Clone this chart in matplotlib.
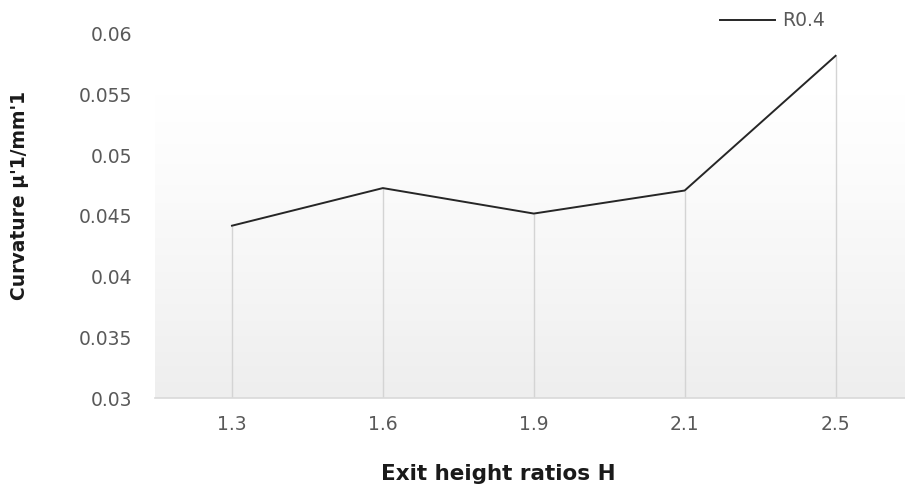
import numpy as np
import matplotlib.pyplot as plt
from matplotlib.colors import LinearSegmentedColormap

categories = ["1.3", "1.6", "1.9", "2.1", "2.5"]
curvature = [0.0442, 0.0473, 0.0452, 0.0471, 0.0582]
series_name = "R0.4"
y_ticks = [0.03, 0.035, 0.04, 0.045, 0.05, 0.055, 0.06]
y_tick_labels = ["0.03", "0.035", "0.04", "0.045", "0.05", "0.055", "0.06"]

plt.rcParams['font.family'] = ['DejaVu Sans']

fig = plt.figure(figsize=(9.05, 4.91), dpi=100)
ax = fig.add_axes([0.1713, 0.1894, 0.8287, 0.7414])

x = np.arange(len(categories))
xlim = (-0.51, 4.46)
ylim = (0.03, 0.06)

# soft vertical gradient in the plot area (light gray at bottom fading to white)
grad = (1 - np.linspace(0, 1, 256)).reshape(-1, 1) ** 1.2
cmap = LinearSegmentedColormap.from_list("bg", ["#ffffff", "#eeeeee"])
ax.imshow(grad, extent=[xlim[0], xlim[1], 0.03, 0.0552],
          aspect='auto', cmap=cmap, zorder=0, origin='lower', vmin=0, vmax=1)
ax.set_xlim(*xlim)
ax.set_ylim(*ylim)

# drop lines from each point to the category axis
ax.vlines(x, 0.03, curvature, colors="#d4d4d4", linewidth=1.0, zorder=1)
line, = ax.plot(x, curvature, color="#262626", linewidth=1.4, zorder=3,
                label=series_name)

for s in ["top", "right", "left"]:
    ax.spines[s].set_visible(False)
ax.spines["bottom"].set_color("#d9d9d9")
ax.spines["bottom"].set_linewidth(1.2)

ax.set_xticks(x)
ax.set_xticklabels(categories)
ax.set_yticks(y_ticks)
ax.set_yticklabels(y_tick_labels)
ax.tick_params(axis='both', length=0, labelsize=13.5, colors="#595959")
ax.tick_params(axis='x', pad=12)
ax.tick_params(axis='y', pad=16.5)

fig.text(0.551, 1 - 474 / 491, "Exit height ratios H", fontsize=15.5,
         fontweight='bold', color="#1a1a1a", ha='center', va='center')
fig.text(20 / 905, 1 - 195 / 491, "Curvature µ'1/mm'1", rotation=90,
         fontsize=13.5, fontweight='bold', color="#1a1a1a",
         ha='center', va='center')

leg = fig.legend(handles=[line], loc='center left',
                 bbox_to_anchor=(720 / 905, 1 - 21 / 491),
                 frameon=False, fontsize=13.5, handlelength=2.93,
                 handletextpad=0.37, borderaxespad=0, borderpad=0)
for t in leg.get_texts():
    t.set_color("#595959")

fig.savefig("out.png", dpi=100)
